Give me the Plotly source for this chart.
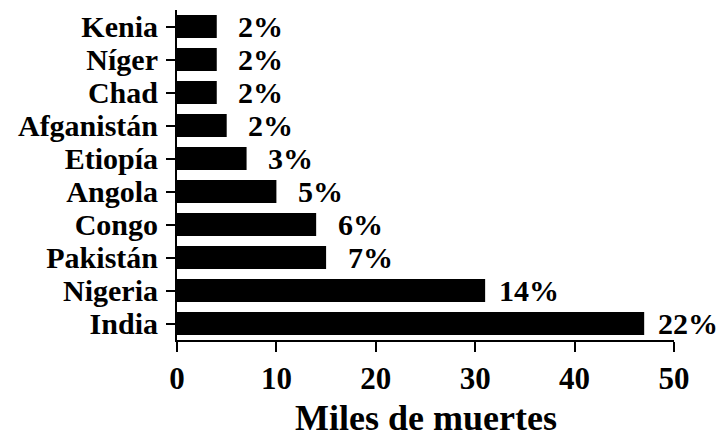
import plotly.graph_objects as go

# Deaths per country (thousands) and share of the total
countries = ["India", "Nigeria", "Pakistán", "Congo", "Angola",
             "Etiopía", "Afganistán", "Chad", "Níger", "Kenia"]
deaths_thousands = [47, 31, 15, 14, 10, 7, 5, 4, 4, 4]
share_labels = ["22%", "14%", "7%", "6%", "5%", "3%", "2%", "2%", "2%", "2%"]
x_ticks = [0, 10, 20, 30, 40, 50]

FONT = "Liberation Serif"
W, H = 725, 439
M_L, M_R, M_T, M_B = 177, 51, 10, 99
plot_h = H - M_T - M_B

fig = go.Figure()
fig.add_trace(go.Bar(
    x=deaths_thousands,
    y=countries,
    orientation="h",
    width=0.7,
    marker=dict(color="black", line=dict(width=0)),
    hoverinfo="skip",
))

# share labels centred a fixed distance past the end of each bar
for c, v, lab in zip(countries, deaths_thousands, share_labels):
    fig.add_annotation(
        x=v, y=c, text=f"<b>{lab}</b>", showarrow=False,
        xanchor="center", yanchor="middle", xshift=44, borderpad=0,
        font=dict(family=FONT, size=30, color="black"),
    )

# axis title placed below the tick labels
fig.add_annotation(
    x=0.5, xref="paper", y=-(418 - (H - M_B)) / plot_h, yref="paper",
    text="<b>Miles de muertes</b>", showarrow=False,
    xanchor="center", yanchor="middle", borderpad=0,
    font=dict(family=FONT, size=36, color="black"),
)

fig.update_layout(
    width=W, height=H,
    margin=dict(l=M_L, r=M_R, t=M_T, b=M_B),
    paper_bgcolor="white", plot_bgcolor="white",
    showlegend=False,
    font=dict(family=FONT, color="black"),
)

fig.update_xaxes(
    range=[0, 50], tickvals=x_ticks,
    ticktext=[f"<b>{t}</b>" for t in x_ticks],
    showgrid=False, zeroline=False, automargin=False,
    showline=True, linecolor="black", linewidth=2,
    ticks="outside", ticklen=10, tickwidth=2, tickcolor="black",
    tickfont=dict(family=FONT, size=31, color="black"),
)

fig.update_yaxes(
    range=[-0.5, 9.5],
    tickvals=countries,
    ticktext=[f"<b>{c}</b>" for c in countries],
    showgrid=False, zeroline=False, automargin=False,
    showline=True, linecolor="black", linewidth=2,
    ticks="outside", ticklen=9, tickwidth=2, tickcolor="black",
    ticklabelstandoff=2,
    tickfont=dict(family=FONT, size=30, color="black"),
)

fig.write_html("out.html")
